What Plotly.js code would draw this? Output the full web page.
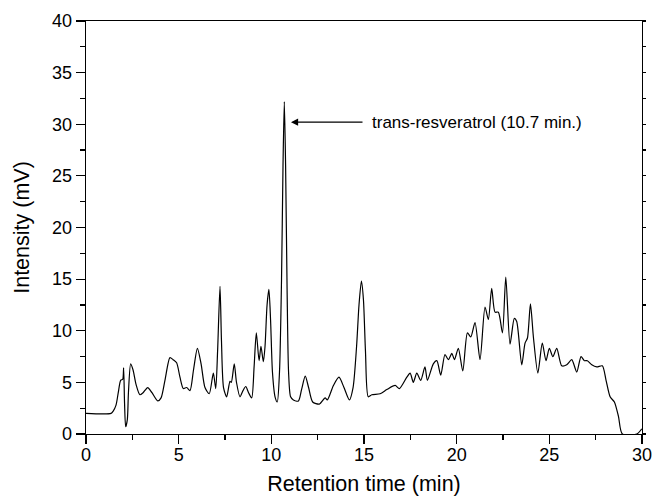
<!DOCTYPE html>
<html>
<head>
<meta charset="utf-8">
<script src="https://cdn.plot.ly/plotly-3.0.1.min.js"></script>
<style>
  html, body { margin: 0; padding: 0; background: #fff; }
  #chart { width: 654px; height: 497px; }
</style>
</head>
<body>
<div id="chart"></div>
<script>
// Retention time (min)
const retentionTime = [
  0, 1.35, 1.46, 1.62, 1.74, 1.87, 1.98, 2.03, 2.08, 2.14, 2.23, 2.29, 2.41, 2.54, 2.70, 2.91,
  3.08, 3.33, 3.56, 3.87, 4.05, 4.26, 4.53, 4.70, 4.89, 5.07, 5.25, 5.43, 5.61, 5.80, 6.01, 6.21,
  6.42, 6.65, 6.87, 7.00, 7.10, 7.23, 7.31, 7.42, 7.59, 7.77, 7.84, 8.00, 8.12, 8.31, 8.47, 8.62,
  8.77, 8.94, 9.07, 9.19, 9.34, 9.44, 9.57, 9.66, 9.77, 9.87, 9.96, 10.06, 10.20, 10.32, 10.44,
  10.55, 10.63, 10.70, 10.77, 10.85, 10.93, 11.04, 11.19, 11.46, 11.63, 11.83, 12.01, 12.23,
  12.59, 12.90, 13.02, 13.35, 13.65, 13.92, 14.21, 14.41, 14.60, 14.73, 14.86, 14.97, 15.08,
  15.23, 15.42, 15.87, 16.23, 16.68, 16.91, 17.31, 17.49, 17.66, 17.85, 18.06, 18.29, 18.42,
  18.74, 18.93, 19.14, 19.37, 19.55, 19.74, 19.88, 20.09, 20.33, 20.58, 20.76, 20.99, 21.26,
  21.53, 21.71, 21.89, 22.07, 22.25, 22.47, 22.65, 22.88, 23.11, 23.24, 23.51, 23.69, 23.82,
  23.98, 24.14, 24.38, 24.62, 24.82, 25.00, 25.19, 25.40, 25.67, 25.94, 26.21, 26.48, 26.71,
  26.89, 27.05, 27.29, 27.56, 27.86, 28.06, 28.28, 28.51, 28.73, 28.94, 29.72, 29.99
];
// Intensity (mV)
const intensity = [
  2.0, 2.0, 2.2, 2.8, 4.0, 5.2, 5.3, 6.4, 3.0, 0.7, 1.4, 4.0, 6.8, 6.2, 4.8, 3.8,
  4.0, 4.5, 4.0, 3.2, 3.5, 5.2, 7.4, 7.2, 6.9, 5.5, 4.4, 4.5, 4.2, 6.2, 8.3, 6.8,
  4.5, 3.9, 5.9, 4.4, 8.0, 14.3, 9.0, 4.5, 3.6, 5.1, 5.0, 6.8, 5.0, 3.6, 4.2, 4.6,
  4.0, 3.5, 6.5, 9.8, 7.1, 8.5, 7.0, 8.5, 12.5, 14.0, 11.0, 6.0, 3.6, 3.1, 6.0,
  15.0, 26.0, 32.2, 26.0, 14.0, 6.0, 3.6, 3.3, 3.2, 4.3, 5.6, 4.5, 3.1,
  2.9, 3.5, 3.3, 4.7, 5.5, 4.5, 3.3, 4.5, 8.5, 12.5, 14.8, 13.0, 8.0,
  3.6, 3.8, 3.9, 4.3, 4.7, 4.4, 5.5, 5.9, 5.0, 5.9, 5.2, 6.5, 5.2,
  6.8, 7.1, 5.7, 7.7, 7.2, 7.8, 7.2, 8.3, 6.1, 9.8, 9.4, 10.8, 7.2,
  12.3, 11.1, 14.1, 11.8, 11.8, 9.8, 15.2, 8.7, 11.2, 10.9, 6.7, 8.8, 9.3,
  12.6, 9.4, 5.9, 8.8, 7.1, 8.3, 7.5, 8.3, 6.6, 6.7, 7.2, 6.0, 7.5,
  7.1, 7.1, 6.7, 6.5, 6.6, 5.2, 3.6, 3.1, 1.7, 0.0, 0.0, 0.5
];
const xTickVals = [0, 5, 10, 15, 20, 25, 30];
const yTickVals = [0, 5, 10, 15, 20, 25, 30, 35, 40];
const peakLabel = "trans-resveratrol (10.7 min.)";
const peakTime = 11.06, peakLabelLevel = 30.2;

const font = "Liberation Sans, Arial, sans-serif";

const trace = {
  x: retentionTime, y: intensity, type: "scatter", mode: "lines",
  line: { color: "#000", width: 1.2, shape: "spline", smoothing: 0.7 },
  hoverinfo: "skip", cliponaxis: true
};
const trace2 = { x: [0, 30], y: [0, 0], yaxis: "y2", mode: "lines",
  line: { color: "rgba(0,0,0,0)" }, hoverinfo: "skip", showlegend: false };

const layout = {
  width: 654, height: 497,
  margin: { l: 86, r: 12, t: 21, b: 63 },
  paper_bgcolor: "#fff", plot_bgcolor: "#fff",
  showlegend: false,
  font: { family: font, color: "#000", size: 18 },
  xaxis: {
    range: [0, 30], tickvals: xTickVals, ticktext: xTickVals.map(String),
    ticks: "outside", ticklen: 9, tickwidth: 1.2, tickcolor: "#000",
    ticklabelstandoff: -5,
    minor: { dtick: 2.5, tick0: 0, ticks: "outside", ticklen: 5, tickwidth: 1.2, tickcolor: "#000", showgrid: false },
    showline: true, linecolor: "#000", linewidth: 1.3, mirror: true,
    showgrid: false, zeroline: false,
    tickfont: { family: font, size: 18, color: "#000" },
    title: { text: "Retention time (min)", font: { family: font, size: 21.5, color: "#000" }, standoff: 12 }
  },
  yaxis: {
    range: [0, 40], tickvals: yTickVals, ticktext: yTickVals.map(String),
    ticks: "outside", ticklen: 9, tickwidth: 1.2, tickcolor: "#000",
    minor: { dtick: 2.5, tick0: 0, ticks: "outside", ticklen: 5, tickwidth: 1.2, tickcolor: "#000", showgrid: false },
    showline: true, linecolor: "#000", linewidth: 1.3, mirror: true,
    showgrid: false, zeroline: false,
    tickfont: { family: font, size: 18, color: "#000" },
    title: { text: "Intensity (mV)", font: { family: font, size: 21.5, color: "#000" }, standoff: 16 }
  },
  yaxis2: {
    overlaying: "y", side: "right", range: [0, 40],
    tickvals: yTickVals, showticklabels: false,
    ticks: "outside", ticklen: 3, tickwidth: 1.2, tickcolor: "#000",
    minor: { dtick: 2.5, tick0: 0, ticks: "outside", ticklen: 3, tickwidth: 1.2, tickcolor: "#000", showgrid: false },
    showgrid: false, zeroline: false, showline: false
  },
  annotations: [
    {
      x: peakTime, y: peakLabelLevel, xref: "x", yref: "y",
      ax: 15.0, ay: peakLabelLevel, axref: "x", ayref: "y",
      text: "", showarrow: true, arrowhead: 2, arrowsize: 1.1, arrowwidth: 1.3,
      arrowcolor: "#000", standoff: 0, startstandoff: 0
    },
    {
      x: 15.3, y: peakLabelLevel, xref: "x", yref: "y",
      text: peakLabel, showarrow: false, xanchor: "left", yanchor: "middle",
      font: { family: font, size: 17, color: "#000" }
    }
  ]
};

Plotly.newPlot("chart", [trace, trace2], layout, { displayModeBar: false, staticPlot: true });
</script>
</body>
</html>
